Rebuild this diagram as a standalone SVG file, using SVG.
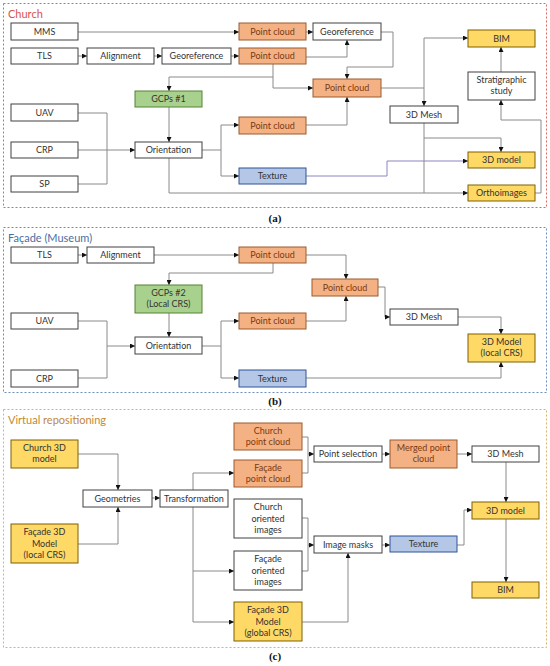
<svg xmlns="http://www.w3.org/2000/svg" width="550" height="666" viewBox="0 0 550 666">
<defs>
<marker id="ah" markerWidth="5" markerHeight="5" refX="5" refY="2.5" orient="auto" markerUnits="userSpaceOnUse"><path d="M0,0 L5,2.5 L0,5 z" fill="#111"/></marker>
<style>
.w{fill:#fff;stroke:#404040;stroke-width:1}
.o{fill:#f4b183;stroke:#9c5a2e;stroke-width:1}
.g{fill:#a9d18e;stroke:#548235;stroke-width:1}
.b{fill:#b4c7e7;stroke:#2f5597;stroke-width:1}
.y{fill:#ffd966;stroke:#7f6000;stroke-width:1}
text{font-family:Lato,"Liberation Sans",sans-serif;font-size:9px;fill:#333;text-anchor:middle}
.to{fill:#7b3a10}
.title{font-size:11px;text-anchor:start}
.lab{font-family:"Liberation Serif",serif;font-size:11px;font-weight:bold;fill:#111}
.frame{fill:none;stroke-width:1;stroke-dasharray:2,2}
#connectors path{fill:none;stroke:#8a8a8a;stroke-width:1}
#connectors path.a{marker-end:url(#ah)}
</style>
</defs>
<rect width="550" height="666" fill="#fff"/>

<!-- frames -->
<rect class="frame" x="3.5" y="3.5" width="543" height="204" stroke="#e06666"/>
<text class="title" x="8" y="18" style="fill:#d9534f">Church</text>
<text class="lab" x="275" y="222">(a)</text>
<rect class="frame" x="3.5" y="227.5" width="543" height="165" stroke="#6a8cc7"/>
<text class="title" x="8" y="242" style="fill:#4a6fa5">Façade (Museum)</text>
<text class="lab" x="275" y="405">(b)</text>
<rect class="frame" x="3.5" y="409.5" width="543" height="238" stroke="#d9b36a"/>
<text class="title" x="8" y="424" style="fill:#c0883a">Virtual repositioning</text>
<text class="lab" x="275" y="660">(c)</text>

<g id="connectors">
<!-- (a) -->
<path class="a" d="M78,32 H239"/>
<path class="a" d="M78,56 H87"/>
<path class="a" d="M154,56 H162"/>
<path class="a" d="M231,56 H239"/>
<path class="a" d="M306,32 H313"/>
<path class="a" d="M306,57 H347 V40"/>
<path class="a" d="M381,32 H393 V67 H347 V79"/>
<path class="a" d="M273,64 V88 H313"/>
<path class="a" d="M273,77 H169 V91"/>
<path d="M381,88 H424"/>
<path class="a" d="M424,38 V106"/>
<path class="a" d="M424,38 H468"/>
<path class="a" d="M306,125 H347 V97"/>
<path class="a" d="M169,107 V142"/>
<path d="M78,113 H107 V184 H78"/>
<path class="a" d="M78,150 H135"/>
<path d="M202,150 H221 M221,125 V176"/>
<path class="a" d="M221,125 H239"/>
<path class="a" d="M221,176 H239"/>
<path class="a" d="M169,158 V193 H468"/>
<path class="a" d="M306,176 H387 V161 H468" style="stroke:#8a86c0"/>
<path d="M424,123 V193"/>
<path class="a" d="M424,138 H501 V152"/>
<path class="a" d="M535,193 H541 V120 H501 V100"/>
<path class="a" d="M501,72 V47"/>
<!-- (b) -->
<path class="a" d="M78,255 H87"/>
<path class="a" d="M154,255 H239"/>
<path class="a" d="M273,263 V273 H169 V285"/>
<path class="a" d="M306,255 H346 V279"/>
<path class="a" d="M306,321 H346 V296"/>
<path class="a" d="M378,287 H385 V317 H390"/>
<path class="a" d="M458,317 H501 V334"/>
<path class="a" d="M169,313 V337"/>
<path d="M78,321 H107 V378 H78"/>
<path class="a" d="M107,346 H135"/>
<path d="M202,346 H221 M221,321 V378"/>
<path class="a" d="M221,321 H239"/>
<path class="a" d="M221,378 H239"/>
<path class="a" d="M306,378 H501 V362"/>
<!-- (c) -->
<path class="a" d="M78,454 H118 V490"/>
<path class="a" d="M78,544 H118 V507"/>
<path class="a" d="M152,498 H160"/>
<path class="a" d="M193,490 V473 H234"/>
<path class="a" d="M193,507 V622 H234"/>
<path class="a" d="M193,571 H234"/>
<path d="M302,437 H308 V473 H302"/>
<path class="a" d="M308,454 H314"/>
<path class="a" d="M382,454 H390"/>
<path class="a" d="M457,454 H472"/>
<path class="a" d="M506,462 V502"/>
<path d="M302,518 H308 V571 H302"/>
<path class="a" d="M308,545 H314"/>
<path class="a" d="M302,622 H348 V553"/>
<path class="a" d="M382,545 H390"/>
<path class="a" d="M457,545 H464 V510 H472"/>
<path class="a" d="M506,519 V582"/>
</g>

<!-- Panel (a) nodes -->
<g id="a_mms"><rect class="w" x="11" y="23" width="67" height="17"/><text x="44.5" y="34.5">MMS</text></g>
<g id="a_tls"><rect class="w" x="11" y="48" width="67" height="16"/><text x="44.5" y="59">TLS</text></g>
<g id="a_align"><rect class="w" x="87" y="48" width="67" height="16"/><text x="120.5" y="59">Alignment</text></g>
<g id="a_georef"><rect class="w" x="162" y="48" width="69" height="16"/><text x="196.5" y="59">Georeference</text></g>
<g id="a_pc1"><rect class="o" x="239" y="23" width="67" height="17"/><text class="to" x="272.5" y="34.5">Point cloud</text></g>
<g id="a_pc2"><rect class="o" x="239" y="48" width="67" height="16"/><text class="to" x="272.5" y="59">Point cloud</text></g>
<g id="a_georef2"><rect class="w" x="313" y="23" width="68" height="17"/><text x="347" y="34.5">Georeference</text></g>
<g id="a_bim"><rect class="y" x="468" y="30" width="67" height="17"/><text x="501.5" y="41.5">BIM</text></g>
<g id="a_strat"><rect class="w" x="468" y="72" width="67" height="28"/><text x="501.5" y="83">Stratigraphic</text><text x="501.5" y="94">study</text></g>
<g id="a_pc3"><rect class="o" x="313" y="79" width="68" height="18"/><text class="to" x="347" y="91">Point cloud</text></g>
<g id="a_gcps"><rect class="g" x="135" y="91" width="67" height="16"/><text x="168.5" y="102">GCPs #1</text></g>
<g id="a_uav"><rect class="w" x="11" y="104" width="67" height="17"/><text x="44.5" y="115.5">UAV</text></g>
<g id="a_crp"><rect class="w" x="11" y="142" width="67" height="16"/><text x="44.5" y="153">CRP</text></g>
<g id="a_sp"><rect class="w" x="11" y="176" width="67" height="16"/><text x="44.5" y="187">SP</text></g>
<g id="a_orient"><rect class="w" x="135" y="142" width="67" height="16"/><text x="168.5" y="153">Orientation</text></g>
<g id="a_pc4"><rect class="o" x="239" y="117" width="67" height="17"/><text class="to" x="272.5" y="128.5">Point cloud</text></g>
<g id="a_texture"><rect class="b" x="239" y="168" width="67" height="16"/><text x="272.5" y="179">Texture</text></g>
<g id="a_mesh"><rect class="w" x="390" y="106" width="68" height="17"/><text x="424" y="117.5">3D Mesh</text></g>
<g id="a_model"><rect class="y" x="468" y="152" width="67" height="16"/><text x="501.5" y="163">3D model</text></g>
<g id="a_ortho"><rect class="y" x="468" y="185" width="67" height="16"/><text x="501.5" y="196">Orthoimages</text></g>

<!-- Panel (b) nodes -->
<g id="b_tls"><rect class="w" x="11" y="247" width="67" height="16"/><text x="44.5" y="258">TLS</text></g>
<g id="b_align"><rect class="w" x="87" y="247" width="67" height="16"/><text x="120.5" y="258">Alignment</text></g>
<g id="b_pc1"><rect class="o" x="239" y="247" width="67" height="16"/><text class="to" x="272.5" y="258">Point cloud</text></g>
<g id="b_gcps"><rect class="g" x="135" y="285" width="67" height="28"/><text x="168.5" y="296">GCPs #2</text><text x="168.5" y="307">(Local CRS)</text></g>
<g id="b_pc2"><rect class="o" x="312" y="279" width="66" height="17"/><text class="to" x="345" y="290.5">Point cloud</text></g>
<g id="b_uav"><rect class="w" x="11" y="313" width="67" height="16"/><text x="44.5" y="324">UAV</text></g>
<g id="b_pc3"><rect class="o" x="239" y="313" width="67" height="16"/><text class="to" x="272.5" y="324">Point cloud</text></g>
<g id="b_orient"><rect class="w" x="135" y="337" width="67" height="17"/><text x="168.5" y="348.5">Orientation</text></g>
<g id="b_mesh"><rect class="w" x="390" y="309" width="68" height="16"/><text x="424" y="320">3D Mesh</text></g>
<g id="b_model"><rect class="y" x="468" y="334" width="67" height="28"/><text x="501.5" y="345">3D Model</text><text x="501.5" y="356">(local CRS)</text></g>
<g id="b_crp"><rect class="w" x="11" y="370" width="67" height="17"/><text x="44.5" y="381.5">CRP</text></g>
<g id="b_texture"><rect class="b" x="239" y="370" width="67" height="17"/><text x="272.5" y="381.5">Texture</text></g>

<!-- Panel (c) nodes -->
<g id="c_church3d"><rect class="y" x="11" y="440" width="67" height="28"/><text x="44.5" y="451">Church 3D</text><text x="44.5" y="462">model</text></g>
<g id="c_facade3dlocal"><rect class="y" x="11" y="524" width="67" height="39"/><text x="44.5" y="535">Façade 3D</text><text x="44.5" y="546.5">Model</text><text x="44.5" y="558">(local CRS)</text></g>
<g id="c_geom"><rect class="w" x="83" y="490" width="69" height="17"/><text x="117.5" y="501.5">Geometries</text></g>
<g id="c_transf"><rect class="w" x="160" y="490" width="68" height="17"/><text x="194" y="501.5">Transformation</text></g>
<g id="c_churchpc"><rect class="o" x="234" y="423" width="68" height="27"/><text class="to" x="268" y="434">Church</text><text class="to" x="268" y="445">point cloud</text></g>
<g id="c_facadepc"><rect class="o" x="234" y="460" width="68" height="27"/><text class="to" x="268" y="471">Façade</text><text class="to" x="268" y="482">point cloud</text></g>
<g id="c_pointsel"><rect class="w" x="314" y="446" width="68" height="16"/><text x="348" y="457">Point selection</text></g>
<g id="c_merged"><rect class="o" x="390" y="440" width="67" height="28"/><text class="to" x="423.5" y="451">Merged point</text><text class="to" x="423.5" y="462">cloud</text></g>
<g id="c_mesh"><rect class="w" x="472" y="446" width="67" height="16"/><text x="505.5" y="457">3D Mesh</text></g>
<g id="c_churchoi"><rect class="w" x="234" y="499" width="68" height="39"/><text x="268" y="510">Church</text><text x="268" y="521.5">oriented</text><text x="268" y="533">images</text></g>
<g id="c_facadeoi"><rect class="w" x="234" y="551" width="68" height="39"/><text x="268" y="562">Façade</text><text x="268" y="573.5">oriented</text><text x="268" y="585">images</text></g>
<g id="c_masks"><rect class="w" x="314" y="536" width="68" height="17"/><text x="348" y="547.5">Image masks</text></g>
<g id="c_texture"><rect class="b" x="390" y="536" width="67" height="16"/><text x="423.5" y="547">Texture</text></g>
<g id="c_model"><rect class="y" x="472" y="502" width="67" height="17"/><text x="505.5" y="513.5">3D model</text></g>
<g id="c_bim"><rect class="y" x="472" y="582" width="67" height="16"/><text x="505.5" y="593">BIM</text></g>
<g id="c_facade3dglobal"><rect class="y" x="234" y="602" width="68" height="39"/><text x="268" y="613">Façade 3D</text><text x="268" y="624.5">Model</text><text x="268" y="636">(global CRS)</text></g>
</svg>
